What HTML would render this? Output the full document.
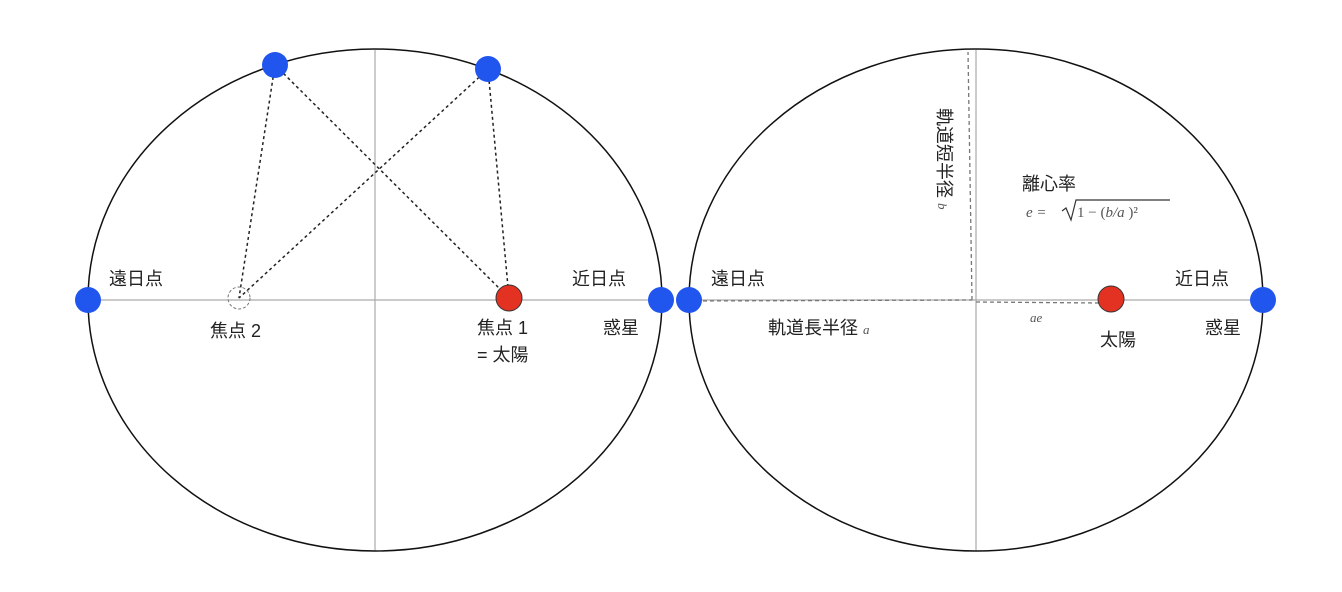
<!DOCTYPE html>
<html><head><meta charset="utf-8"><style>
body{margin:0;background:#fff;}
svg{display:block}
text{font-family:"Liberation Sans","Noto Sans CJK JP",sans-serif;font-size:18px;fill:#222}
.m{font-family:"Liberation Serif",serif;font-style:italic;font-size:13px;fill:#555}
</style></head><body>
<svg width="1342" height="592" viewBox="0 0 1342 592">
<g stroke="#aaa" stroke-width="1.2">
<line x1="88" y1="300" x2="661" y2="300"/><line x1="375" y1="50" x2="375" y2="551"/>
<line x1="689" y1="300" x2="1263" y2="300"/><line x1="976" y1="50" x2="976" y2="551"/>
</g>
<ellipse cx="375" cy="300" rx="287" ry="251" fill="none" stroke="#111" stroke-width="1.5"/>
<ellipse cx="976" cy="300" rx="287" ry="251" fill="none" stroke="#111" stroke-width="1.5"/>
<g stroke="#222" stroke-width="1.5" stroke-dasharray="3,3" fill="none">
<line x1="275" y1="65" x2="239" y2="298"/><line x1="275" y1="65" x2="509" y2="298"/>
<line x1="488" y1="69" x2="239" y2="298"/><line x1="488" y1="69" x2="509" y2="298"/>
</g>
<circle cx="239" cy="298" r="11" fill="none" stroke="#777" stroke-dasharray="3,2"/>
<g stroke="#777" stroke-width="1.3" stroke-dasharray="4,3" fill="none">
<line x1="689" y1="301" x2="972" y2="300"/><line x1="972" y1="300" x2="968" y2="52"/>
<line x1="976" y1="302" x2="1100" y2="303"/>
</g>
<circle cx="509" cy="298" r="13" fill="#e33222" stroke="#333"/>
<circle cx="1111" cy="299" r="13" fill="#e33222" stroke="#333"/>
<g fill="#2055ee">
<circle cx="275" cy="65" r="13"/><circle cx="488" cy="69" r="13"/>
<circle cx="88" cy="300" r="13"/><circle cx="661" cy="300" r="13"/>
<circle cx="689" cy="300" r="13"/><circle cx="1263" cy="300" r="13"/>
</g>
<text x="109" y="285">遠日点</text>
<text x="572" y="285">近日点</text>
<text x="603" y="334">惑星</text>
<text x="210" y="337">焦点 2</text>
<text x="477" y="334">焦点 1</text>
<text x="477" y="361">= 太陽</text>
<text x="711" y="285">遠日点</text>
<text x="1175" y="285">近日点</text>
<text x="1205" y="334">惑星</text>
<text x="1100" y="346">太陽</text>
<text x="768" y="334">軌道長半径 <tspan class="m">a</tspan></text>
<text x="1030" y="322" class="m">ae</text>
<text x="1022" y="190">離心率</text>
<text x="1026" y="217" class="m" style="font-size:15px">e =</text>
<polyline points="1062,211 1066,208 1071,220 1076,200 1170,200" fill="none" stroke="#333" stroke-width="1.2"/>
<text x="1077" y="217" class="m" style="font-size:15px;font-style:normal">1 − (<tspan font-style="italic">b/a</tspan> )²</text>
<text transform="translate(938,108) rotate(90)">軌道短半径 <tspan class="m">b</tspan></text>
</svg>
</body></html>
